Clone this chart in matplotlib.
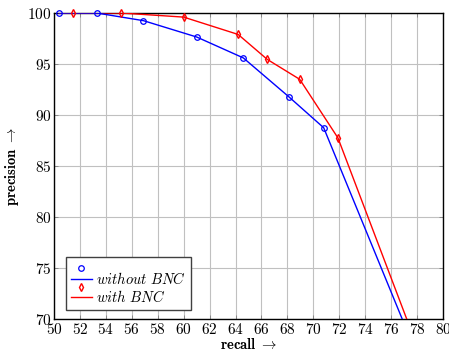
import matplotlib
matplotlib.use("Agg")
import matplotlib.pyplot as plt
from matplotlib.lines import Line2D

plt.rcParams['mathtext.fontset'] = 'cm'
plt.rcParams['font.family'] = 'serif'
plt.rcParams['font.serif'] = ['DejaVu Serif']

recall_without = [50.4, 53.3, 56.9, 61.0, 64.6, 68.1, 70.8, 77.5]
precision_without = [100.0, 100.0, 99.25, 97.65, 95.6, 91.8, 88.75, 68.0]
recall_with = [50.4, 51.45, 55.2, 60.0, 64.2, 66.45, 68.95, 71.9, 77.8]
precision_with = [100.0, 100.0, 100.0, 99.6, 97.9, 95.45, 93.5, 87.75, 68.0]

x_ticks = list(range(50, 81, 2))
y_ticks = list(range(70, 101, 5))

fig = plt.figure(figsize=(4.49, 3.52), dpi=100)
ax = fig.add_axes([0.1203, 0.0938, 0.8663, 0.8692])

# lines (clipped)
ax.plot(recall_with, precision_with, color='red', lw=1.0, zorder=3)
ax.plot(recall_without, precision_without, color='blue', lw=1.0, zorder=4)

# markers (not clipped, only points inside the visible range)
mw = [(x, y) for x, y in zip(recall_with[1:], precision_with[1:]) if y >= 70]
ax.plot([p[0] for p in mw], [p[1] for p in mw], lw=0, color='red', marker='d',
        markersize=3.6, markerfacecolor='none', markeredgewidth=1.0,
        zorder=5, clip_on=False)
mo = [(x, y) for x, y in zip(recall_without, precision_without) if y >= 70]
ax.plot([p[0] for p in mo], [p[1] for p in mo], lw=0, color='blue', marker='o',
        markersize=4, markerfacecolor='none', markeredgewidth=0.9,
        zorder=6, clip_on=False)

ax.set_xlim(50, 80)
ax.set_ylim(70, 100)
ax.set_xticks(x_ticks)
ax.set_yticks(y_ticks)
ax.set_xticklabels([f'${t}$' for t in x_ticks], fontsize=11)
ax.set_yticklabels([f'${t}$' for t in y_ticks], fontsize=11)
ax.grid(True, color='#c0c0c0', lw=0.8, zorder=0)
ax.set_axisbelow(True)
ax.tick_params(direction='in', length=3, width=0.6, color='#808080',
               top=True, right=True, pad=2)
for s in ax.spines.values():
    s.set_linewidth(1.0)
    s.set_color('black')

ax.set_xlabel(r'$\mathbf{recall}\ \rightarrow$', fontsize=10.5, labelpad=0)
ax.set_ylabel(r'$\mathbf{precision}\ \rightarrow$', fontsize=10.5, labelpad=4)

handles = [
    Line2D([], [], color='blue', lw=0, marker='o', markersize=4,
           markerfacecolor='none', markeredgewidth=0.9),
    Line2D([], [], color='blue', lw=1.0),
    Line2D([], [], color='red', lw=0, marker='d', markersize=3.6,
           markerfacecolor='none', markeredgewidth=1.0),
    Line2D([], [], color='red', lw=1.0),
]
labels = ['', r'$without\ BNC$', '', r'$with\ BNC$']
leg = ax.legend(handles, labels, loc='lower left', bbox_to_anchor=(0.031, 0.029),
                fontsize=10.5, fancybox=False, framealpha=1, edgecolor='#404040',
                handlelength=1.4, handletextpad=0.3, labelspacing=-0.4,
                borderpad=0.35, borderaxespad=0)
leg.get_frame().set_linewidth(1.0)

fig.savefig('out.png', dpi=100)
